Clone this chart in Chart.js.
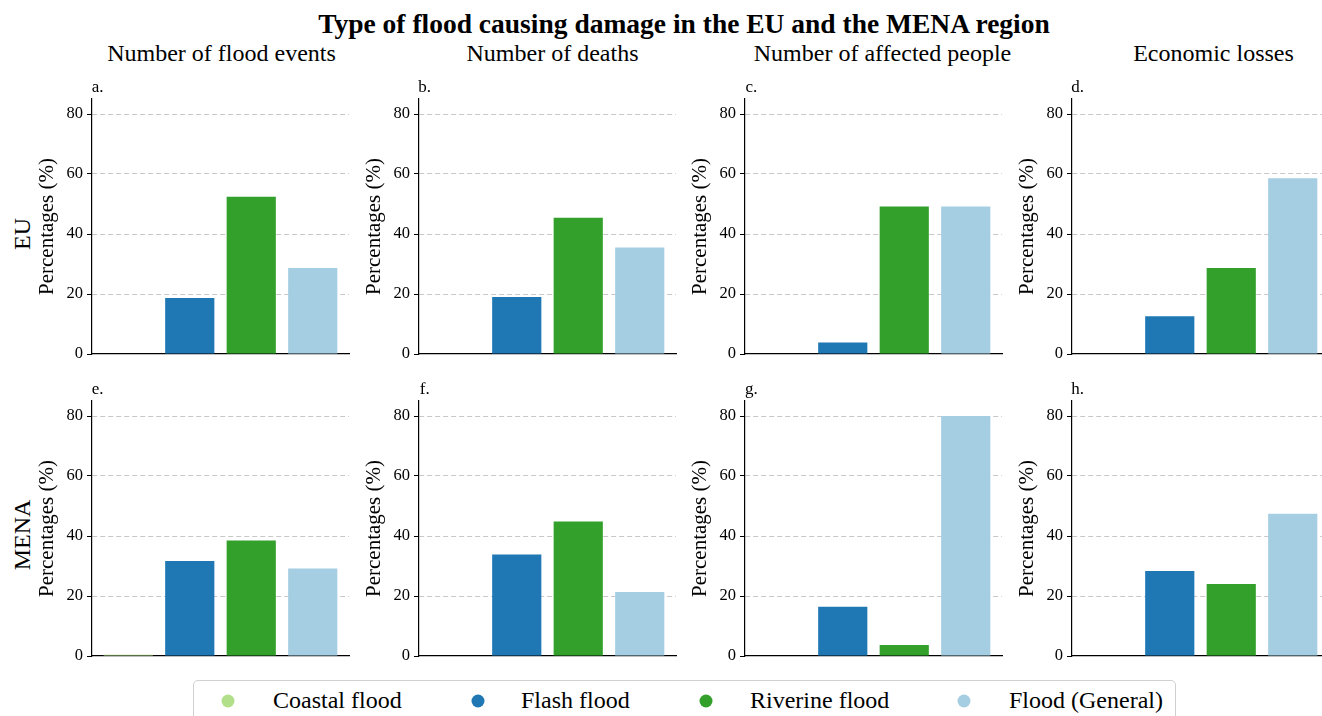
<!DOCTYPE html>
<html>
<head>
<meta charset="utf-8">
<script src="https://cdn.jsdelivr.net/npm/chart.js@4.4.1/dist/chart.umd.min.js"></script>
<style>
  body { margin: 0; background: #fff; width: 1322px; height: 716px; overflow: hidden; position: relative;
         font-family: "Liberation Serif", "Times New Roman", serif; color: #000; }
  .t { position: absolute; white-space: nowrap; line-height: 1; transform: translate(-50%, -50%); }
  canvas { position: absolute; }
  .legend { position: absolute; left: 193px; top: 680px; width: 983px; height: 50px;
            border: 1px solid #d0d0d0; border-radius: 5px; box-sizing: border-box; }
  .dot { position: absolute; width: 13px; height: 13px; border-radius: 50%; transform: translate(-50%, -50%); }
</style>
</head>
<body>
<div class="legend" id="legend"></div>
<script>
const categories = ["Coastal flood", "Flash flood", "Riverine flood", "Flood (General)"];
const colors = ["#b2df8a", "#1f78b4", "#33a02c", "#a6cee3"];
const columnTitles = ["Number of flood events", "Number of deaths", "Number of affected people", "Economic losses"];
const rowTitles = ["EU", "MENA"];
const panelLetters = ["a.", "b.", "c.", "d.", "e.", "f.", "g.", "h."];
const yTicks = [0, 20, 40, 60, 80];

// values in %
const euEvents = [0, 18.7, 52.4, 28.7];
const euDeaths = [0, 19.0, 45.4, 35.5];
const euAffected = [0, 3.8, 49.2, 49.2];
const euLosses = [0, 12.6, 28.7, 58.6];
const menaEvents = [0.4, 31.7, 38.5, 29.2];
const menaDeaths = [0, 33.8, 44.8, 21.3];
const menaAffected = [0, 16.4, 3.7, 80.0];
const menaLosses = [0, 28.3, 24.0, 47.4];

const panels = [euEvents, euDeaths, euAffected, euLosses, menaEvents, menaDeaths, menaAffected, menaLosses];

const FONT = "'Liberation Serif', 'Times New Roman', serif";
const chartLefts = [91.7, 418.7, 745.3, 1071.5];
const rowBottoms = [354, 656];
const pxPerUnit = 3;
const yMax = 85;
const xMin = -0.59, xMax = 3.59;
const unitW = 61.5;
const axisW = 80, padTop = 20, xAxisH = 14;

function addText(txt, x, y, css) {
  const d = document.createElement("div");
  d.className = "t";
  d.textContent = txt;
  d.style.left = x + "px";
  d.style.top = y + "px";
  Object.assign(d.style, css);
  document.body.appendChild(d);
  return d;
}

// titles
addText("Type of flood causing damage in the EU and the MENA region", 684, 24, { fontSize: "27.5px", fontWeight: "bold" });
const colCenters = [221.5, 552.5, 882.5, 1213.5];
columnTitles.forEach((c, i) => addText(c, colCenters[i], 53, { fontSize: "24px" }));
addText(rowTitles[0], 22, 234, { fontSize: "24px", transform: "translate(-50%, -50%) rotate(-90deg)" });
addText(rowTitles[1], 22, 535, { fontSize: "24px", transform: "translate(-50%, -50%) rotate(-90deg)" });

panels.forEach((vals, p) => {
  const col = p % 4, row = Math.floor(p / 4);
  const left = chartLefts[col];
  const bottom = rowBottoms[row];
  const plotH = yMax * pxPerUnit;
  const plotW = (xMax - xMin) * unitW;

  const cv = document.createElement("canvas");
  const cw = Math.round(axisW + plotW + 2), ch = Math.round(padTop + plotH + xAxisH);
  cv.width = cw; cv.height = ch;
  cv.style.left = (left - axisW) + "px";
  cv.style.top = (bottom - plotH - padTop) + "px";
  cv.style.width = cw + "px"; cv.style.height = ch + "px";
  document.body.appendChild(cv);

  addText(panelLetters[p], left + 6, bottom - plotH - 13, { fontSize: "17px" });

  new Chart(cv, {
    type: "bar",
    data: {
      datasets: [{
        data: vals.map((v, i) => ({ x: i, y: v })),
        backgroundColor: colors,
        borderWidth: 0,
        barPercentage: 0.8,
        categoryPercentage: 1
      }]
    },
    options: {
      responsive: false,
      animation: false,
      devicePixelRatio: 1,
      layout: { padding: { top: padTop, bottom: 0, left: 0, right: 2 } },
      plugins: { legend: { display: false }, tooltip: { enabled: false } },
      scales: {
        x: {
          type: "linear",
          offset: false,
          min: xMin, max: xMax,
          ticks: { display: false },
          grid: { display: false, offset: false },
          border: { display: true, color: "#000", width: 1.2 },
          afterFit: s => { s.height = xAxisH; }
        },
        y: {
          min: 0, max: yMax,
          afterBuildTicks: s => { s.ticks = yTicks.map(v => ({ value: v })); },
          ticks: { font: { family: FONT, size: 16.5 }, color: "#000", padding: 4 },
          grid: {
            color: c => (c.tick && c.tick.value === 0) ? "rgba(0,0,0,0)" : "#c8c8c8",
            tickColor: "#000",
            tickLength: 5,
            lineWidth: 1
          },
          border: { display: true, color: "#000", width: 1.2, dash: [5, 3] },
          title: { display: true, text: "Percentages (%)", font: { family: FONT, size: 21 }, color: "#000",
                   padding: { top: 23, bottom: 0 } },
          afterFit: s => { s.width = axisW; }
        }
      }
    }
  });
});

// legend
const legend = document.getElementById("legend");
const dotX = [34, 284, 512, 770];
const txtX = [79, 327, 556, 815];
categories.forEach((c, i) => {
  const d = document.createElement("div");
  d.className = "dot";
  d.style.left = dotX[i] + "px";
  d.style.top = "20px";
  d.style.background = colors[i];
  legend.appendChild(d);
  const t = document.createElement("div");
  t.style.cssText = "position:absolute;white-space:nowrap;line-height:1;font-size:24px;top:7px;left:" + txtX[i] + "px";
  t.textContent = c;
  legend.appendChild(t);
});
</script>
</body>
</html>
